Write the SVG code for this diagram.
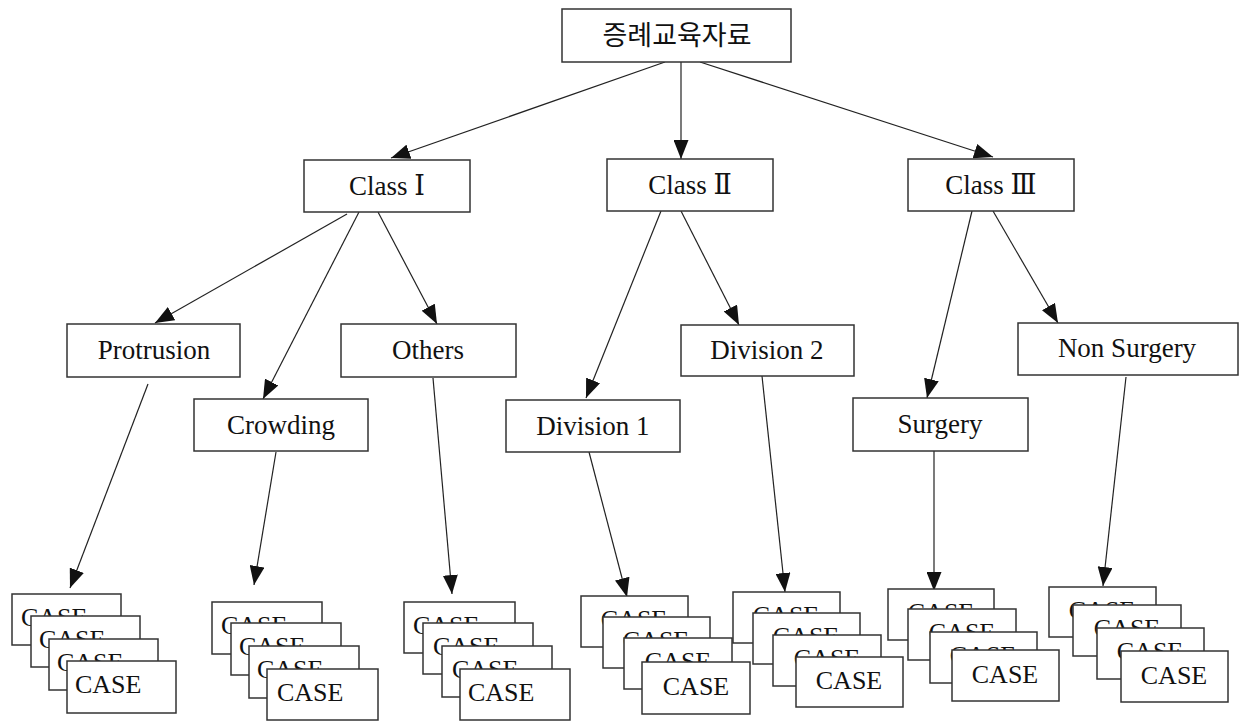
<svg xmlns="http://www.w3.org/2000/svg" width="1250" height="722" viewBox="0 0 1250 722">
<defs>
<marker id="ah" viewBox="0 0 19 15" refX="19" refY="7.5" markerWidth="19" markerHeight="15" markerUnits="userSpaceOnUse" orient="auto">
<path d="M0,0 L19,7.5 L0,15 z" fill="#111"/>
</marker>
<style>
.box{fill:#fff;stroke:#333;stroke-width:1.5}
.t{font-family:"Liberation Serif","DejaVu Serif","Noto Sans CJK KR",serif;font-size:27px;fill:#111;text-anchor:middle}
.k{font-family:"Noto Sans CJK KR",sans-serif;font-size:27px;fill:#111;text-anchor:middle}
.c{font-family:"Liberation Serif","DejaVu Serif",serif;font-size:26px;fill:#111}
.cm{text-anchor:middle}
.ln{fill:none;stroke:#222;stroke-width:1.2;marker-end:url(#ah)}
</style>
</defs>
<rect width="1250" height="722" fill="#fff"/>

<g id="connectors">
<path class="ln" d="M665,62 L391,158"/>
<path class="ln" d="M681,62 L681,159"/>
<path class="ln" d="M700,62 L993,157"/>
<path class="ln" d="M347,214 L155,323"/>
<path class="ln" d="M359,212 L263,399"/>
<path class="ln" d="M378,212 L437,324"/>
<path class="ln" d="M661,211 L586,398"/>
<path class="ln" d="M681,211 L739,325"/>
<path class="ln" d="M972,211 L927,398"/>
<path class="ln" d="M993,211 L1058,323"/>
<path class="ln" d="M148,384 L70,588"/>
<path class="ln" d="M276,452 L254,585"/>
<path class="ln" d="M433,378 L452,594"/>
<path class="ln" d="M589,452 L627,597"/>
<path class="ln" d="M762,376 L785,592"/>
<path class="ln" d="M934,451 L934,591"/>
<path class="ln" d="M1126,377 L1103,586"/>
</g>

<g id="root"><rect class="box" x="562" y="9" width="229" height="53"/><text class="k" x="677" y="45">증례교육자료</text></g>

<g id="class1"><rect class="box" x="304" y="160" width="166" height="52"/><text class="t" x="387" y="195">Class Ⅰ</text></g>
<g id="class2"><rect class="box" x="607" y="159" width="166" height="52"/><text class="t" x="690" y="194">Class Ⅱ</text></g>
<g id="class3"><rect class="box" x="908" y="159" width="166" height="52"/><text class="t" x="991" y="194">Class Ⅲ</text></g>

<g id="protrusion"><rect class="box" x="67" y="324" width="173" height="53"/><text class="t" x="154" y="359">Protrusion</text></g>
<g id="crowding"><rect class="box" x="194" y="399" width="174" height="52"/><text class="t" x="281" y="434">Crowding</text></g>
<g id="others"><rect class="box" x="341" y="324" width="175" height="53"/><text class="t" x="428" y="359">Others</text></g>
<g id="division1"><rect class="box" x="506" y="400" width="174" height="52"/><text class="t" x="593" y="435">Division 1</text></g>
<g id="division2"><rect class="box" x="681" y="325" width="173" height="51"/><text class="t" x="767" y="359">Division 2</text></g>
<g id="surgery"><rect class="box" x="853" y="398" width="175" height="53"/><text class="t" x="940" y="433">Surgery</text></g>
<g id="nonsurgery"><rect class="box" x="1018" y="323" width="220" height="52"/><text class="t" x="1127" y="357">Non Surgery</text></g>

<g id="cases-protrusion">
<rect class="box" x="12" y="594" width="109" height="51"/><text class="c" x="21" y="626">CASE</text>
<rect class="box" x="31" y="616" width="109" height="51"/><text class="c" x="39" y="648">CASE</text>
<rect class="box" x="49" y="639" width="109" height="51"/><text class="c" x="57" y="671">CASE</text>
<rect class="box" x="67" y="661" width="109" height="52"/><text class="c" x="75" y="693">CASE</text>
</g>
<g id="cases-crowding">
<rect class="box" x="212" y="602" width="110" height="52"/><text class="c" x="221" y="634">CASE</text>
<rect class="box" x="231" y="623" width="110" height="52"/><text class="c" x="239" y="655">CASE</text>
<rect class="box" x="249" y="646" width="110" height="52"/><text class="c" x="257" y="678">CASE</text>
<rect class="box" x="267" y="669" width="111" height="51"/><text class="c" x="277" y="701">CASE</text>
</g>
<g id="cases-others">
<rect class="box" x="404" y="602" width="111" height="51"/><text class="c" x="413" y="634">CASE</text>
<rect class="box" x="423" y="623" width="110" height="51"/><text class="c" x="433" y="655">CASE</text>
<rect class="box" x="442" y="646" width="110" height="51"/><text class="c" x="452" y="678">CASE</text>
<rect class="box" x="460" y="669" width="110" height="51"/><text class="c" x="468" y="701">CASE</text>
</g>
<g id="cases-division1">
<rect class="box" x="581" y="596" width="107" height="51"/><text class="c cm" x="634" y="628">CASE</text>
<rect class="box" x="603" y="617" width="107" height="51"/><text class="c cm" x="656" y="649">CASE</text>
<rect class="box" x="624" y="638" width="108" height="51"/><text class="c cm" x="678" y="670">CASE</text>
<rect class="box" x="642" y="662" width="108" height="52"/><text class="c cm" x="696" y="695">CASE</text>
</g>
<g id="cases-division2">
<rect class="box" x="733" y="592" width="107" height="51"/><text class="c cm" x="786" y="624">CASE</text>
<rect class="box" x="753" y="613" width="107" height="51"/><text class="c cm" x="806" y="645">CASE</text>
<rect class="box" x="773" y="635" width="108" height="51"/><text class="c cm" x="827" y="667">CASE</text>
<rect class="box" x="796" y="657" width="107" height="50"/><text class="c cm" x="849" y="689">CASE</text>
</g>
<g id="cases-surgery">
<rect class="box" x="888" y="589" width="106" height="51"/><text class="c cm" x="941" y="621">CASE</text>
<rect class="box" x="908" y="609" width="108" height="51"/><text class="c cm" x="962" y="641">CASE</text>
<rect class="box" x="930" y="632" width="107" height="51"/><text class="c cm" x="983" y="664">CASE</text>
<rect class="box" x="952" y="650" width="107" height="51"/><text class="c cm" x="1005" y="683">CASE</text>
</g>
<g id="cases-nonsurgery">
<rect class="box" x="1049" y="587" width="107" height="50"/><text class="c cm" x="1102" y="619">CASE</text>
<rect class="box" x="1073" y="605" width="108" height="51"/><text class="c cm" x="1127" y="637">CASE</text>
<rect class="box" x="1097" y="628" width="107" height="51"/><text class="c cm" x="1150" y="660">CASE</text>
<rect class="box" x="1121" y="651" width="107" height="51"/><text class="c cm" x="1174" y="684">CASE</text>
</g>
</svg>
